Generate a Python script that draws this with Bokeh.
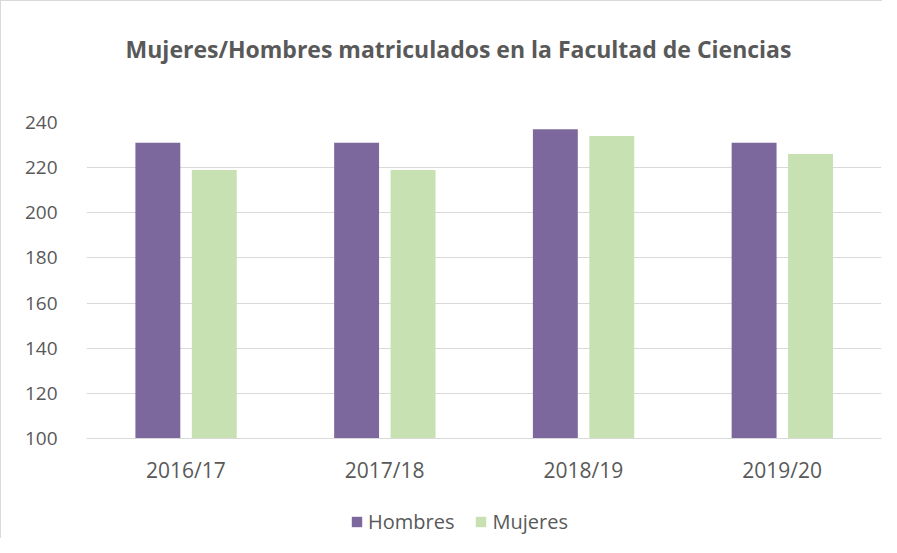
from bokeh.plotting import figure
from bokeh.models import ColumnDataSource, FactorRange, Range1d, FixedTicker, Legend, LegendItem
from bokeh.layouts import column
from bokeh.core.properties import value
from bokeh.transform import dodge
from bokeh.embed import file_html
from bokeh.resources import INLINE

title_text = "Mujeres/Hombres matriculados en la Facultad de Ciencias"
categories = ["2016/17", "2017/18", "2018/19", "2019/20"]
hombres = [231, 231, 237, 231]
mujeres = [219, 219, 234, 226]
y_ticks = [100, 120, 140, 160, 180, 200, 220, 240]
series_names = ["Hombres", "Mujeres"]
series_colors = ["#7D689D", "#C7E1B3"]

FONT = "Open Sans"
TXT = "#595959"
GRID = "#D9D9D9"
W = 881
BL, BR = 85, 1  # frame borders shared by all stacked figures

# ---- header with title (x data = page pixels) ----
head = figure(width=W, height=100, output_backend="svg", toolbar_location=None,
              x_range=Range1d(BL, W - BR), y_range=Range1d(0, 100),
              x_axis_type=None, y_axis_type=None,
              min_border_left=BL, min_border_right=BR, min_border_top=0, min_border_bottom=0)
head.outline_line_color = None
head.grid.grid_line_color = None
head.text(x=[457], y=[53], text=[title_text], text_font=value(FONT), text_font_size="23px",
          text_font_style="bold", text_color=TXT, text_align="center", text_baseline="middle")

# ---- main chart ----
src = ColumnDataSource(dict(cat=categories, hombres=hombres, mujeres=mujeres))
p = figure(width=W, height=400, output_backend="svg", toolbar_location=None,
           x_range=FactorRange(*categories, range_padding=0),
           y_range=Range1d(100, 240),
           min_border_left=BL, min_border_right=BR, min_border_top=21, min_border_bottom=63)
p.outline_line_color = None

p.vbar(x=dodge("cat", -0.141, range=p.x_range), top="hombres", bottom=100, width=0.226,
       source=src, fill_color=series_colors[0], line_color=None)
p.vbar(x=dodge("cat", 0.143, range=p.x_range), top="mujeres", bottom=100, width=0.226,
       source=src, fill_color=series_colors[1], line_color=None)

p.xgrid.grid_line_color = None
p.ygrid.grid_line_color = GRID
p.ygrid.ticker = FixedTicker(ticks=y_ticks)

p.yaxis.ticker = FixedTicker(ticks=y_ticks)
p.yaxis.axis_line_color = None
p.yaxis.major_tick_line_color = None
p.yaxis.minor_tick_line_color = None
p.yaxis.major_label_standoff = 23
p.yaxis.major_label_text_font = FONT
p.yaxis.major_label_text_font_size = "19px"
p.yaxis.major_label_text_color = TXT

p.xaxis.axis_line_color = GRID
p.xaxis.major_tick_line_color = None
p.xaxis.minor_tick_line_color = None
p.xaxis.major_label_standoff = 11
p.xaxis.major_label_text_font = FONT
p.xaxis.major_label_text_font_size = "21px"
p.xaxis.major_label_text_color = TXT

# ---- footer with legend ----
foot = figure(width=W, height=37, output_backend="svg", toolbar_location=None,
              x_range=Range1d(BL, W - BR), y_range=Range1d(0, 37),
              x_axis_type=None, y_axis_type=None,
              min_border_left=BL, min_border_right=BR, min_border_top=0, min_border_bottom=0)
foot.outline_line_color = None
foot.grid.grid_line_color = None
items = []
for name, col in zip(series_names, series_colors):
    # placeholder renderer outside the visible range, only feeds the legend swatch
    r = foot.vbar(x=[-1000], top=[-1000], bottom=[-1001], width=1, fill_color=col, line_color=None)
    items.append(LegendItem(label=name, renderers=[r]))
legend = Legend(items=items, orientation="horizontal", location=(264, 3),
                glyph_width=13, glyph_height=13, label_standoff=5, spacing=20,
                padding=0, margin=0, border_line_color=None, background_fill_alpha=0,
                label_text_font=FONT, label_text_font_size="20px", label_text_color=TXT)
foot.add_layout(legend, "center")

layout = column(head, p, foot, spacing=0,
                styles={"border-left": "1px solid #D9D9D9", "border-top": "1px solid #D9D9D9"})

open("out.html", "w").write(file_html(layout, INLINE))
